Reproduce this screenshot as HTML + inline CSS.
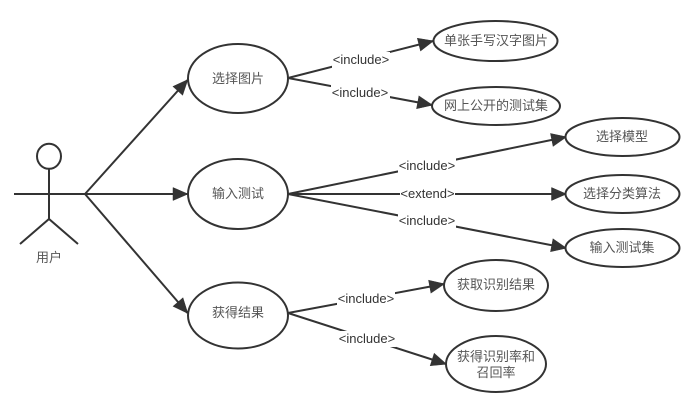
<!DOCTYPE html>
<html>
<head>
<meta charset="utf-8">
<style>
html,body{margin:0;padding:0;background:#fff;}
svg{display:block;}
text{font-family:"Liberation Sans","Noto Sans CJK SC",sans-serif;font-size:13px;fill:#555;text-anchor:middle;}
text.l{fill:#333;}
.c{stroke:#333;stroke-width:2;fill:none;}
ellipse{stroke:#333;stroke-width:2;fill:#fff;}
</style>
</head>
<body>
<svg width="691" height="407" viewBox="0 0 691 407" xmlns="http://www.w3.org/2000/svg">
<defs>
<marker id="a" markerUnits="userSpaceOnUse" markerWidth="18" markerHeight="16" refX="15.5" refY="8" orient="auto">
<polygon points="1,1.5 16,8 1,14.5" fill="#333" stroke="#333" stroke-width="0.5"/>
</marker>
</defs>
<!-- actor -->
<ellipse cx="49" cy="156.3" rx="12" ry="12.5"/>
<path class="c" d="M49 169V219M14 194H85M20 244L49 219L78 244"/>
<text x="49" y="262">用户</text>
<!-- connectors -->
<line class="c" x1="85" y1="194" x2="187.5" y2="80" marker-end="url(#a)"/>
<line class="c" x1="85" y1="194" x2="187.5" y2="194" marker-end="url(#a)"/>
<line class="c" x1="85" y1="194" x2="187.5" y2="313" marker-end="url(#a)"/>
<line class="c" x1="288" y1="78" x2="433" y2="41" marker-end="url(#a)"/>
<line class="c" x1="288" y1="78" x2="432" y2="105" marker-end="url(#a)"/>
<line class="c" x1="288" y1="194" x2="566" y2="137" marker-end="url(#a)"/>
<line class="c" x1="288" y1="194" x2="566" y2="194" marker-end="url(#a)"/>
<line class="c" x1="288" y1="194" x2="566" y2="248" marker-end="url(#a)"/>
<line class="c" x1="288" y1="313" x2="444" y2="284" marker-end="url(#a)"/>
<line class="c" x1="288" y1="313" x2="446" y2="364" marker-end="url(#a)"/>
<!-- label backgrounds -->
<g fill="#fff">
<rect x="332" y="52" width="58" height="16"/>
<rect x="331" y="85" width="59" height="16"/>
<rect x="398" y="158" width="58" height="16"/>
<rect x="400" y="186" width="55" height="16"/>
<rect x="398" y="213" width="58" height="16"/>
<rect x="337" y="291" width="58" height="16"/>
<rect x="338" y="331" width="58" height="16"/>
</g>
<!-- labels -->
<text class="l" x="361" y="64">&lt;include&gt;</text>
<text class="l" x="360" y="97">&lt;include&gt;</text>
<text class="l" x="427" y="170">&lt;include&gt;</text>
<text class="l" x="427.5" y="198">&lt;extend&gt;</text>
<text class="l" x="427" y="225">&lt;include&gt;</text>
<text class="l" x="366" y="303">&lt;include&gt;</text>
<text class="l" x="367" y="343">&lt;include&gt;</text>
<!-- use cases -->
<ellipse cx="238" cy="78.5" rx="50" ry="34.5"/>
<ellipse cx="238" cy="194" rx="50" ry="35"/>
<ellipse cx="238" cy="315.5" rx="50" ry="33"/>
<ellipse cx="495.5" cy="41" rx="62" ry="20"/>
<ellipse cx="496" cy="106" rx="64" ry="19"/>
<ellipse cx="622.5" cy="137" rx="57" ry="19"/>
<ellipse cx="622.5" cy="194" rx="57" ry="19"/>
<ellipse cx="622.5" cy="248" rx="57" ry="19"/>
<ellipse cx="496" cy="285.5" rx="52" ry="25.5"/>
<ellipse cx="496" cy="364" rx="50" ry="28"/>
<text x="238" y="83">选择图片</text>
<text x="238" y="198">输入测试</text>
<text x="238" y="317">获得结果</text>
<text x="496" y="45">单张手写汉字图片</text>
<text x="496" y="110">网上公开的测试集</text>
<text x="622" y="141">选择模型</text>
<text x="622" y="198">选择分类算法</text>
<text x="622" y="252">输入测试集</text>
<text x="496" y="289">获取识别结果</text>
<text x="496" y="361">获得识别率和</text>
<text x="496" y="377">召回率</text>
</svg>
</body>
</html>
